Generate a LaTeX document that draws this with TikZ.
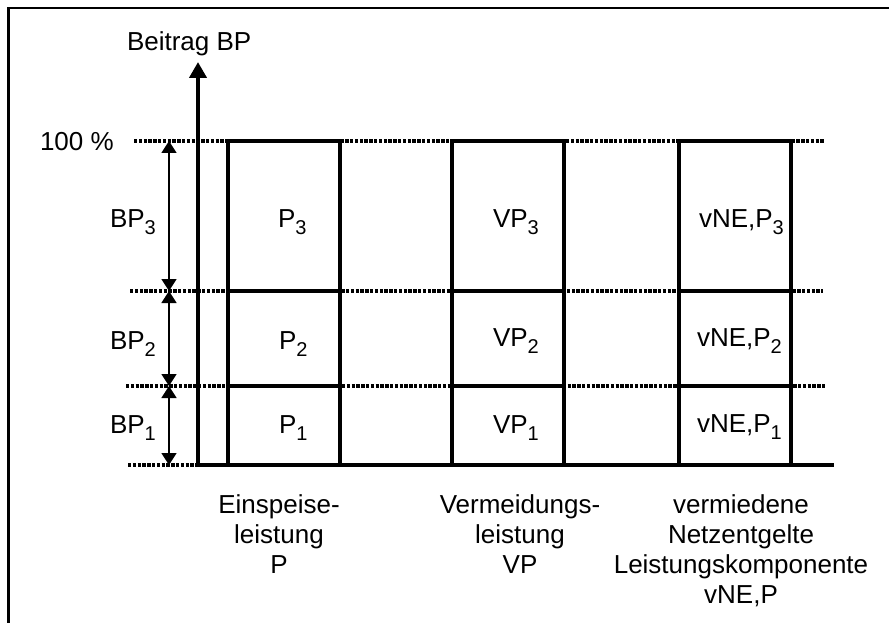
\documentclass[tikz,border=0pt]{standalone}
\usepackage{fontspec}
\setmainfont{Liberation Sans}
\usetikzlibrary{arrows.meta}
\newcommand\lsub[1]{\raisebox{-7pt}{\fontsize{20}{20}\selectfont #1}}
\begin{document}
\begin{tikzpicture}[x=1pt,y=-1pt,
  every node/.style={font=\fontsize{26}{30}\selectfont, inner sep=0pt, outer sep=0pt},
  frameline/.style={line width=2.3pt},
  axisline/.style={line width=4.5pt},
  boxline/.style={line width=3.3pt},
  levelline/.style={line width=3.8pt, dash pattern=on 3.4pt off 1.4pt},
  dimline/.style={line width=1.6pt, {Triangle[width=15pt,length=12pt]}-{Triangle[width=15pt,length=12pt]}},
  lbl/.style={anchor=base west},
  captext/.style={anchor=north, align=center},
]
\useasboundingbox (0,0) rectangle (889,623);
% frame
\coordinate (fbl) at (8.5,640);
\coordinate (ftl) at (8.5,8);
\coordinate (ftr) at (900,8);
\draw[frameline] (fbl) -- (ftl) -- (ftr);

% level lines
\coordinate (l3a) at (134,141); \coordinate (l3b) at (825,141);
\coordinate (l2a) at (130,291); \coordinate (l2b) at (823,291);
\coordinate (l1a) at (126,386); \coordinate (l1b) at (825,386);
\coordinate (l0a) at (128,465); \coordinate (l0b) at (198,465);
\draw[levelline] (l3a) -- (l3b);
\draw[levelline] (l2a) -- (l2b);
\draw[levelline] (l1a) -- (l1b);
\draw[levelline] (l0a) -- (l0b);

% boxes
\foreach \nm/\L/\R in {a/228/340, b/452/564, c/679/791}{
  \coordinate (\nm bl) at (\L,465);
  \coordinate (\nm tr) at (\R,141);
  \coordinate (\nm ml) at (\L,291); \coordinate (\nm mr) at (\R,291);
  \coordinate (\nm ll) at (\L,386); \coordinate (\nm lr) at (\R,386);
  \draw[boxline] (\nm bl) rectangle (\nm tr);
  \draw[boxline] (\nm ml) -- (\nm mr);
  \draw[boxline] (\nm ll) -- (\nm lr);
}

% axes
\coordinate (o) at (198,465);
\coordinate (ax0) at (198,467);
\coordinate (axt) at (198,62);
\coordinate (bx0) at (196,465);
\coordinate (bxe) at (834,465);
\draw[axisline, -{Triangle[width=17pt,length=16pt]}] (ax0) -- (axt);
\draw[axisline] (bx0) -- (bxe);

% dimension arrows
\coordinate (d3) at (169,141);
\coordinate (d2) at (169,291);
\coordinate (d1) at (169,386);
\coordinate (d0) at (169,465);
\draw[dimline] (d3) -- (d2);
\draw[dimline] (d2) -- (d1);
\draw[dimline] (d1) -- (d0);

% labels
\node[lbl] (ytitle) at (127,51) {Beitrag BP};
\node[lbl] (hundred) at (40,151) {100 \%};
\node[lbl] (bp3) at (110,227) {BP\lsub{3}};
\node[lbl] (bp2) at (110,349) {BP\lsub{2}};
\node[lbl] (bp1) at (110,433) {BP\lsub{1}};

\node[lbl] (p3) at (278,227) {P\lsub{3}};
\node[lbl] (p2) at (279,349) {P\lsub{2}};
\node[lbl] (p1) at (279,433) {P\lsub{1}};

\node[lbl] (vp3) at (493,227) {VP\lsub{3}};
\node[lbl] (vp2) at (493,346) {VP\lsub{2}};
\node[lbl] (vp1) at (493,433) {VP\lsub{1}};

\node[lbl] (vn3) at (699,227) {vNE,P\lsub{3}};
\node[lbl] (vn2) at (697,346) {vNE,P\lsub{2}};
\node[lbl] (vn1) at (697,432) {vNE,P\lsub{1}};

% captions
\node[captext] (capa) at (279,494.5) {Einspeise-\\leistung\\P};
\node[captext] (capb) at (520,494.5) {Vermeidungs-\\leistung\\VP};
\node[captext] (capc) at (741,494.5) {vermiedene\\Netzentgelte\\Leistungskomponente\\vNE,P};
\end{tikzpicture}
\end{document}
